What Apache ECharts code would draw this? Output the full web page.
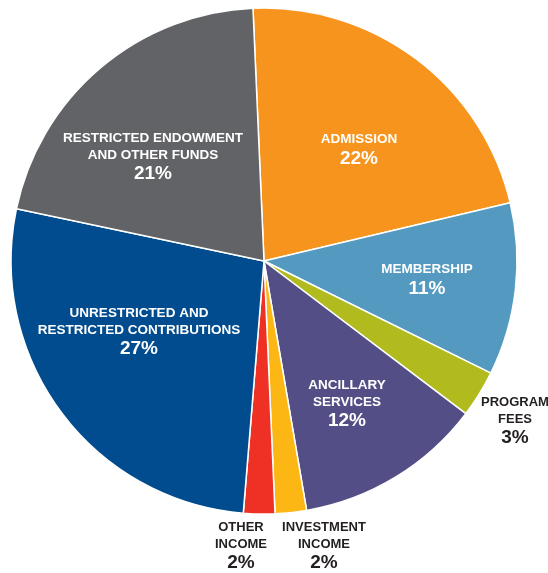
<!DOCTYPE html>
<html>
<head>
<meta charset="utf-8">
<script src="https://cdn.jsdelivr.net/npm/echarts@6/dist/echarts.min.js"></script>
<style>
  html, body { margin: 0; padding: 0; background: #fff; }
  #chart { width: 548px; height: 573px; }
</style>
</head>
<body>
<div id="chart"></div>
<script>
// revenue sources, clockwise from the top
const categories = [
  'ADMISSION',
  'MEMBERSHIP',
  'PROGRAM\nFEES',
  'ANCILLARY\nSERVICES',
  'INVESTMENT\nINCOME',
  'OTHER\nINCOME',
  'UNRESTRICTED AND\nRESTRICTED CONTRIBUTIONS',
  'RESTRICTED ENDOWMENT\nAND OTHER FUNDS'
]
const values = [22, 11, 3, 12, 2, 2, 27, 21]
const colors = ['#f7941d', '#5499bf', '#b1bb1e', '#534f86', '#fdb714', '#ee3124', '#004c8f', '#626366']
// labels that sit outside the pie
const outside = [false, false, true, false, true, true, false, false]
// where each label is centred
const labelPos = [
  [359, 150], [427, 280], [515, 421], [347, 404],
  [324, 546], [241, 546], [139, 332], [153, 157]
]

const myChart = echarts.init(document.getElementById('chart'))

const data = categories.map((name, i) => {
  const lines = name.split('\n').map(s => '{n|' + s + '}').join('\n')
  const c = outside[i] ? '#231f20' : '#fff'
  return {
    name: name,
    value: values[i],
    itemStyle: { color: colors[i] },
    label: {
      formatter: lines + '\n{p|' + values[i] + '%}',
      rich: {
        n: { color: c, fontSize: outside[i] ? 13 : 13.5, fontWeight: 'bold', lineHeight: 17, fontFamily: 'Liberation Sans', align: 'center' },
        p: { color: c, fontSize: 19, fontWeight: 'bold', lineHeight: 21, fontFamily: 'Liberation Sans', align: 'center' }
      }
    }
  }
})

myChart.setOption({
  animation: false,
  series: [{
    type: 'pie',
    center: [264, 261],
    radius: [0, 253],
    startAngle: 92.5,
    clockwise: true,
    silent: true,
    itemStyle: { borderColor: '#fff', borderWidth: 1.5 },
    label: { show: true, position: 'inside' },
    labelLine: { show: false },
    labelLayout: function (params) {
      const p = labelPos[params.dataIndex]
      return { x: p[0], y: p[1], align: 'center', verticalAlign: 'middle' }
    },
    data: data
  }]
})
</script>
</body>
</html>
